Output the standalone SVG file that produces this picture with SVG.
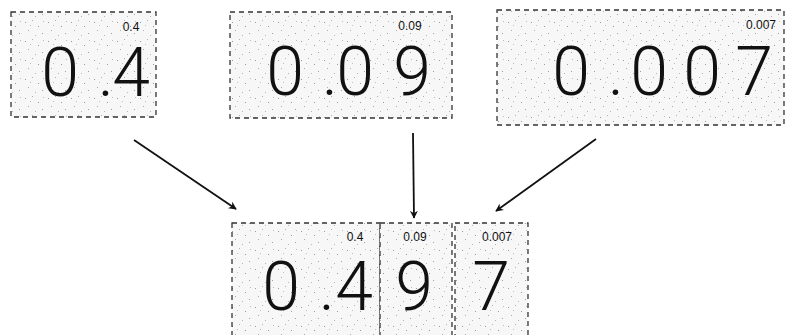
<svg xmlns="http://www.w3.org/2000/svg" width="788" height="335" viewBox="0 0 788 335">
<defs>
<pattern id="spk" width="23" height="19" patternUnits="userSpaceOnUse">
<rect width="23" height="19" fill="#f7f7f7"/>
<rect x="2" y="3" width="1" height="1" fill="#9a9a9a"/>
<rect x="9" y="1" width="1" height="1" fill="#b0b0b0"/>
<rect x="15" y="7" width="1" height="1" fill="#999"/>
<rect x="5" y="11" width="1" height="1" fill="#aaa"/>
<rect x="19" y="14" width="1" height="1" fill="#a0a0a0"/>
<rect x="12" y="16" width="1" height="1" fill="#b5b5b5"/>
<rect x="7" y="6" width="1" height="1" fill="#c0c0c0"/>
<rect x="20" y="2" width="1" height="1" fill="#bbb"/>
</pattern>
<marker id="ah" viewBox="0 0 10 10" refX="9" refY="5" markerWidth="8" markerHeight="8" markerUnits="userSpaceOnUse" orient="auto">
<path d="M0,0 L10,5 L0,10 L3,5 Z" fill="#111"/>
</marker>
</defs>
<style>
.box{fill:url(#spk);stroke:#333;stroke-width:1.3;stroke-dasharray:5 4}
.big{font-family:Roboto,"Liberation Sans",Arial,sans-serif;font-weight:300;font-size:68px;fill:#111;text-anchor:middle}
.sm{font-family:"Liberation Sans",Arial,sans-serif;font-size:12px;fill:#111;text-anchor:middle}
.arr{stroke:#111;stroke-width:1.8;fill:none;marker-end:url(#ah)}
</style>
<rect width="788" height="335" fill="#fff"/>
<g id="n1">
<rect class="box" x="11" y="12" width="145" height="105"/>
<text class="big" x="60 106 131" y="96">0.4</text>
<text class="sm" x="131" y="31">0.4</text>
</g>
<g id="n2">
<rect class="box" x="230" y="12" width="222" height="106"/>
<text class="big" x="285 330 355 412" y="95">0.09</text>
<text class="sm" x="410" y="30">0.09</text>
</g>
<g id="n3">
<rect class="box" x="497" y="10" width="287" height="115"/>
<text class="big" x="571 616 649 702 754" y="95">0.007</text>
<text class="sm" x="761" y="29">0.007</text>
</g>
<g id="n4">
<rect class="box" x="232" y="223" width="148" height="120"/>
<text class="big" x="281 327 354" y="310">0.4</text>
<text class="sm" x="355" y="241">0.4</text>
</g>
<g id="n5">
<rect class="box" x="380" y="223" width="72" height="120"/>
<text class="big" x="414" y="310">9</text>
<text class="sm" x="415" y="241">0.09</text>
</g>
<g id="n6">
<rect class="box" x="455" y="223" width="73" height="120"/>
<text class="big" x="491" y="310">7</text>
<text class="sm" x="497" y="241">0.007</text>
</g>
<g id="connectors">
<line class="arr" x1="134" y1="140" x2="236" y2="209"/>
<line class="arr" x1="413" y1="133" x2="414" y2="218"/>
<line class="arr" x1="596" y1="139" x2="496" y2="211"/>
</g>
</svg>
